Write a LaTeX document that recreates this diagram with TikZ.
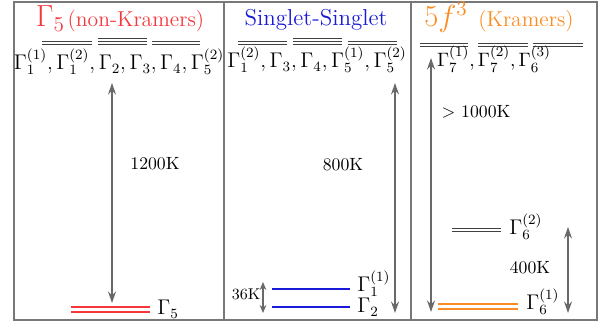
\documentclass[tikz,border=0pt]{standalone}
\usetikzlibrary{arrows.meta}
\definecolor{krred}{RGB}{245,55,60}
\definecolor{sblue}{RGB}{25,25,215}
\definecolor{korange}{RGB}{250,140,35}
\definecolor{agray}{RGB}{105,105,105}
\definecolor{fgray}{RGB}{120,120,120}
\begin{document}
\begin{tikzpicture}[x=0.565pt,y=-0.565pt,
  frame/.style={draw=fgray, line width=0.6pt},
  lev/.style={line width=0.45pt, draw=black!75},
  gap/.style={{Stealth[length=6.5pt,width=4.5pt]}-{Stealth[length=6.5pt,width=4.5pt]}, draw=agray, line width=1pt},
  lab/.style={inner sep=0pt, font=\large},
  val/.style={inner sep=0pt, font=\normalsize},
  ttl/.style={inner sep=0pt, anchor=base}]
\useasboundingbox (0,0) rectangle (605,326);
% frames
\draw[frame] (14,2) rectangle (597,320);
\draw[frame] (224,2) -- (224,320);
\draw[frame] (411,2) -- (411,320);
% titles
\node[ttl, text=krred] (t1) at (120,27) {{\fontsize{17.5}{20}\selectfont$\Gamma_5$}\,{\fontsize{12.2}{14}\selectfont(non-Kramers)}};
\node[ttl, text=sblue] (t2) at (316,26) {\fontsize{13}{15}\selectfont Singlet-Singlet};
\node[ttl, text=korange] (t3) at (499,27) {{\fontsize{17.5}{20}\selectfont$5f^3$}\hspace{6pt}{\fontsize{12.2}{14}\selectfont(Kramers)}};
% top levels, left panel
\draw[lev] (42,41) -- (92,41); \draw[lev] (42,44) -- (92,44);
\draw[lev] (98,38) -- (147,38); \draw[lev] (98,41) -- (147,41); \draw[lev] (98,44) -- (147,44);
\draw[lev] (152,41) -- (200,41); \draw[lev] (152,44) -- (200,44);
% top levels, middle panel
\draw[lev] (238,41) -- (287,41); \draw[lev] (238,44) -- (287,44);
\draw[lev] (293,38) -- (342,38); \draw[lev] (293,41) -- (342,41); \draw[lev] (293,44) -- (342,44);
\draw[lev] (348,41) -- (397,41); \draw[lev] (348,44) -- (397,44);
% top levels, right panel
\draw[lev] (420,43) -- (468,43); \draw[lev] (420,46) -- (468,46);
\draw[lev] (478,43) -- (528,43); \draw[lev] (478,46) -- (528,46);
\draw[lev] (533,43) -- (583,43); \draw[lev] (533,46) -- (583,46);
% top labels
\node[lab, anchor=base] (l1) at (119,70) {$\Gamma_1^{(1)},\Gamma_1^{(2)},\Gamma_2,\Gamma_3,\Gamma_4,\Gamma_5^{(2)}$};
\node[lab, anchor=base] (l2) at (317,68) {$\Gamma_1^{(2)},\Gamma_3,\Gamma_4,\Gamma_5^{(1)},\Gamma_5^{(2)}$};
\node[inner sep=0pt, anchor=base, font=\fontsize{11}{13}\selectfont] (l3) at (494,67) {$\Gamma_7^{(1)}{,}\,\Gamma_7^{(2)}{,}\,\Gamma_6^{(3)}$};
% bottom levels
\draw[krred, line width=0.75pt] (71,307) -- (150,307);
\draw[krred, line width=0.75pt] (71,312) -- (150,312);
\node[lab, anchor=base west] (g5) at (157,315) {$\Gamma_5$};
\draw[sblue, line width=1.1pt] (272,289) -- (350,289);
\draw[sblue, line width=1.1pt] (272,307) -- (350,307);
\node[lab, anchor=base west] (g11) at (357,292) {$\Gamma_1^{(1)}$};
\node[lab, anchor=base west] (g2) at (357,313) {$\Gamma_2$};
\draw[lev] (452,228) -- (501,228); \draw[lev] (452,231) -- (501,231);
\node[lab, anchor=base west] (g62) at (509,235) {$\Gamma_6^{(2)}$};
\draw[korange, line width=1pt] (438,304) -- (518,304);
\draw[korange, line width=1pt] (438,309) -- (518,309);
\node[lab, anchor=base west] (g61) at (526,310) {$\Gamma_6^{(1)}$};
% arrow end points
\coordinate (a1t) at (112,83); \coordinate (a1b) at (112,303);
\coordinate (a2t) at (395,83); \coordinate (a2b) at (395,313);
\coordinate (a3t) at (263,282); \coordinate (a3b) at (263,313);
\coordinate (a4t) at (431,58); \coordinate (a4b) at (431,312);
\coordinate (a5t) at (568,227); \coordinate (a5b) at (568,313);
\draw[gap] (a1t) -- (a1b);
\draw[gap] (a2t) -- (a2b);
\draw[gap, {Stealth[length=4.5pt,width=3.8pt]}-{Stealth[length=4.5pt,width=3.8pt]}] (a3t) -- (a3b);
\draw[gap] (a4t) -- (a4b);
\draw[gap] (a5t) -- (a5b);
% values
\node[val] (v1) at (155,164) {1200K};
\node[val] (v2) at (343,165) {800K};
\node[val, font=\fontsize{8.8}{10}\selectfont] (v3) at (246,294) {36K};
\node[val] (v4) at (476,112) {$>$ 1000K};
\node[val] (v5) at (530,268) {400K};
\end{tikzpicture}
\end{document}
